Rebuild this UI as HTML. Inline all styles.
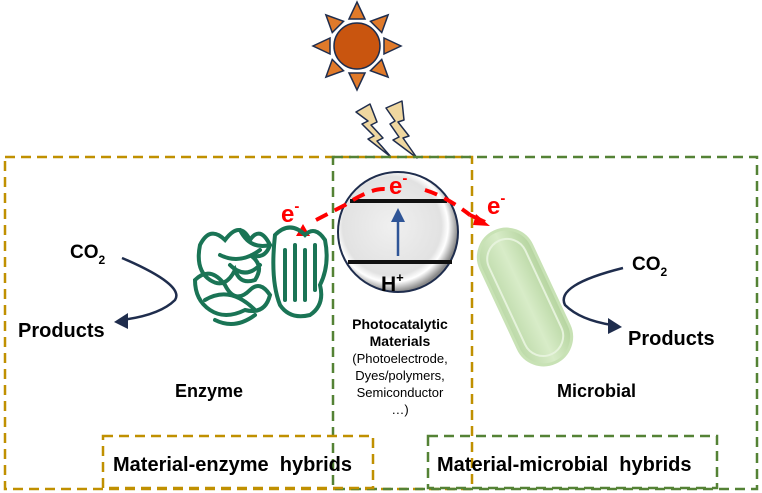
<!DOCTYPE html>
<html><head><style>body{margin:0;background:#fff}svg{display:block}text{font-family:"Liberation Sans",sans-serif;font-weight:bold}</style></head><body>
<svg width="762" height="493" viewBox="0 0 762 493" xmlns="http://www.w3.org/2000/svg">
<defs>
<radialGradient id="g1" cx="45%" cy="45%" r="55%"><stop offset="0" stop-color="#f0f0f0"/><stop offset="0.75" stop-color="#e2e2e2"/><stop offset="0.85" stop-color="#fff"/><stop offset="1" stop-color="#888"/></radialGradient>
<linearGradient id="g2" x1="0" x2="1"><stop offset="0" stop-color="#bcd9a8"/><stop offset="0.5" stop-color="#d8ecc8"/><stop offset="1" stop-color="#b5d49f"/></linearGradient>
</defs>
<!-- sun -->
<g transform="translate(357,46)" fill="#e07a2a" stroke="#1f2d4d" stroke-width="1.5">
<g id="t"><polygon points="-8,-27 8,-27 0,-44"/></g>
<use href="#t" transform="rotate(45)"/><use href="#t" transform="rotate(90)"/><use href="#t" transform="rotate(135)"/><use href="#t" transform="rotate(180)"/><use href="#t" transform="rotate(225)"/><use href="#t" transform="rotate(270)"/><use href="#t" transform="rotate(315)"/>
<circle r="23" fill="#c9550f"/>
</g>
<!-- lightning -->
<g fill="#efd7a0" stroke="#1f2d4d" stroke-width="1.5" stroke-linejoin="round">
<polygon points="356,112 370,104 377,122 371,125 383,138 377,141 391,157 368,139 374,136 362,124 368,121"/>
<polygon points="386,108 402,101 404,120 398,122 409,136 403,138 417,158 393,140 399,137 390,124 395,121"/>
</g>
<!-- boxes -->
<rect x="5" y="157" width="467" height="332" fill="none" stroke="#c09000" stroke-width="2.5" stroke-dasharray="10,6"/>
<rect x="333" y="157" width="424" height="332" fill="none" stroke="#548235" stroke-width="2.5" stroke-dasharray="10,6"/>
<rect x="103" y="436" width="270" height="52" fill="none" stroke="#c09000" stroke-width="2.5" stroke-dasharray="10,6"/>
<rect x="428" y="436" width="289" height="52" fill="none" stroke="#548235" stroke-width="2.5" stroke-dasharray="10,6"/>
<!-- circle -->
<circle cx="398" cy="232" r="60" fill="url(#g1)" stroke="#1f2d4d" stroke-width="2"/>
<line x1="350" y1="201" x2="447" y2="201" stroke="#111" stroke-width="4"/>
<line x1="348" y1="262" x2="452" y2="262" stroke="#111" stroke-width="4"/>
<line x1="398" y1="256" x2="398" y2="222" stroke="#2f5597" stroke-width="2.5"/>
<polygon points="391,222 405,222 398,208" fill="#2f5597"/>
<text x="381" y="291" font-size="21">H<tspan font-size="13" dy="-9">+</tspan></text>
<!-- electrons -->
<path d="M316,220 L345,205 Q375,185 390,190 M425,190 Q445,196 470,215" fill="none" stroke="#f00" stroke-width="4" stroke-dasharray="13,8"/>
<line x1="470" y1="215" x2="485" y2="222" stroke="#f00" stroke-width="4"/>
<polygon points="490,226 476,214 473,225" fill="#f00"/>
<polygon points="303,224 296,236 310,236" fill="#f00"/>
<text x="281" y="222" font-size="24" fill="#f00">e<tspan font-size="15" dy="-11">-</tspan></text>
<text x="389" y="194" font-size="24" fill="#f00">e<tspan font-size="15" dy="-11">-</tspan></text>
<text x="487" y="214" font-size="24" fill="#f00">e<tspan font-size="15" dy="-11">-</tspan></text>
<!-- enzyme -->
<g fill="none" stroke="#1a7455" stroke-width="4" stroke-linecap="round">
<path d="M200,245 q10,-20 25,-5 q15,-20 25,0 q10,-15 20,5 q-5,15 -20,10 q15,10 5,25 q-15,5 -20,-10 q-10,20 -25,10 q-15,-10 -10,-35z"/>
<path d="M195,280 q15,-15 30,5 q10,20 25,5 q10,-10 20,5 q-5,20 -25,15 q-20,10 -35,0 q-15,-10 -15,-30z"/>
<path d="M275,235 q15,-15 30,0 q10,-10 20,5 q5,25 -5,45 q5,20 -10,30 q-20,5 -30,-10 q-10,-25 -5,-70z"/>
<path d="M285,250 v50 M295,245 v55 M305,250 v50 M315,245 v45"/>
<path d="M220,255 q20,10 40,-5 M205,300 q25,-15 50,10 M230,265 q15,15 30,0 M215,320 q20,10 40,-5 M240,230 q10,20 30,15"/>
</g>
<!-- microbe -->
<g transform="rotate(-25 525 297)">
<rect x="497" y="225" width="56" height="144" rx="28" fill="url(#g2)" stroke="#c8e2b5" stroke-width="3"/>
<rect x="505" y="235" width="40" height="125" rx="20" fill="none" stroke="#e6f3dc" stroke-width="2"/>
</g>
<!-- arrows -->
<path d="M122,258 Q185,285 175,300 Q160,315 122,320" fill="none" stroke="#1f2d4d" stroke-width="2.5"/>
<polygon points="114,322 128,313 128,329" fill="#1f2d4d"/>
<path d="M623,268 Q555,285 565,305 Q580,320 612,325" fill="none" stroke="#1f2d4d" stroke-width="2.5"/>
<polygon points="622,327 608,318 608,334" fill="#1f2d4d"/>
<!-- labels -->
<text x="70" y="258" font-size="19">CO<tspan font-size="12" dy="6">2</tspan></text>
<text x="18" y="337" font-size="20">Products</text>
<text x="632" y="270" font-size="19">CO<tspan font-size="12" dy="6">2</tspan></text>
<text x="628" y="345" font-size="20">Products</text>
<text x="175" y="397" font-size="18">Enzyme</text>
<text x="557" y="397" font-size="18">Microbial</text>
<text x="400" y="329" font-size="14" text-anchor="middle">Photocatalytic</text>
<text x="400" y="346" font-size="14" text-anchor="middle">Materials</text>
<g font-size="13" text-anchor="middle"><text x="400" y="363" style="font-weight:normal">(Photoelectrode,</text><text x="400" y="380" style="font-weight:normal">Dyes/polymers,</text><text x="400" y="397" style="font-weight:normal">Semiconductor</text><text x="400" y="414" style="font-weight:normal">…)</text></g>
<text x="113" y="471" font-size="20">Material-enzyme&#160; hybrids</text>
<text x="437" y="471" font-size="20">Material-microbial&#160; hybrids</text>
</svg>
</body></html>
